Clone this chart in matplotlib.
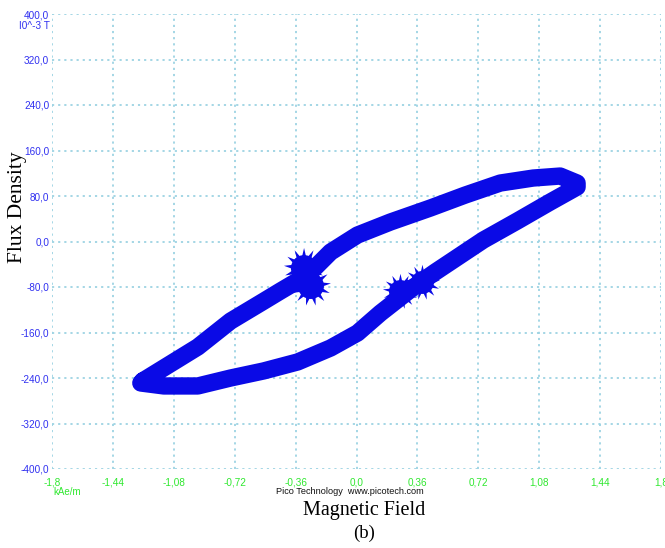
import matplotlib.pyplot as plt
from matplotlib.ticker import FixedLocator, FixedFormatter

# Hysteresis loop (H in kAe/m, B in 10^-3 T)
h_rising = [-1.263, -0.938, -0.744, -0.549, -0.449, -0.289, -0.153, 0.006,
            0.201, 0.437, 0.643, 0.850, 1.045, 1.204, 1.304]
b_rising = [-245.0, -185.5, -139.8, -105.0, -87.0, -58.9, -18.5, 11.4,
            34.3, 58.9, 81.7, 102.8, 111.6, 115.1, 102.8]
h_falling = [1.304, 1.145, 0.950, 0.750, 0.555, 0.466, 0.331, 0.142, 0.006,
             -0.153, -0.348, -0.549, -0.744, -0.938, -1.139, -1.275, -1.263]
b_falling = [95.8, 69.4, 36.0, 2.6, -36.0, -53.6, -81.7, -125.7, -160.9,
             -187.2, -211.8, -227.6, -240.0, -254.0, -254.0, -248.8, -245.0]

# noise bursts on each branch
burst_h = [-0.31, -0.27, 0.26, 0.39]
burst_b = [-47.0, -78.0, -88.0, -72.0]
burst_size = [850, 850, 650, 650]

x_ticks = [-1.8, -1.44, -1.08, -0.72, -0.36, 0.0, 0.36, 0.72, 1.08, 1.44, 1.8]
x_labels = ['-1,8', '-1,44', '-1,08', '-0,72', '-0,36', '0,0', '0,36',
            '0,72', '1,08', '1,44', '1,8']
y_ticks = [-400, -320, -240, -160, -80, 0, 80, 160, 240, 320, 400]
y_labels = ['-400,0', '-320,0', '-240,0', '-160,0', '-80,0', '0,0', '80,0',
            '160,0', '240,0', '320,0', '400,0']

blue = '#0a0ae6'
grid_col = '#9dd3e3'
tick_font = ['Liberation Sans Narrow', 'Liberation Sans', 'DejaVu Sans']
serif = ['Liberation Serif', 'DejaVu Serif']

fig = plt.figure(figsize=(6.65, 5.48), dpi=100)
ax = fig.add_axes([52 / 665, 1 - 469 / 548, 609 / 665, 455 / 548])

ax.plot(h_rising + h_falling, b_rising + b_falling, color=blue, lw=12.5,
        solid_joinstyle='round', solid_capstyle='round', zorder=3)
ax.scatter(burst_h, burst_b, s=burst_size, marker=(13, 1, 0), color=blue,
           linewidths=0, zorder=4)
ax.scatter(burst_h, burst_b, s=[s * 0.42 for s in burst_size], marker='o',
           color=blue, linewidths=0, zorder=4)

ax.set_xlim(-1.8, 1.8)
ax.set_ylim(-400, 400)
ax.xaxis.set_major_locator(FixedLocator(x_ticks))
ax.xaxis.set_major_formatter(FixedFormatter(x_labels))
ax.yaxis.set_major_locator(FixedLocator(y_ticks))
ax.yaxis.set_major_formatter(FixedFormatter(y_labels))
ax.tick_params(length=0, labelsize=7.2)
ax.tick_params(axis='x', labelcolor='#2fe82f', pad=6)
ax.tick_params(axis='y', labelcolor='#3030f0', pad=2)
for lab in ax.get_xticklabels() + ax.get_yticklabels():
    lab.set_family(tick_font)
for s in ax.spines.values():
    s.set_visible(False)
ax.grid(True, color=grid_col, linestyle=(0, (1.2, 2.2)), lw=1.3, zorder=0)

fig.text(50 / 665, 1 - 26 / 548, 'I0^-3 T', color='#3030f0', fontsize=7.2,
         family=tick_font, ha='right', va='center')
fig.text(53 / 665, 1 - 492 / 548, 'kAe/m', color='#2fe82f', fontsize=7,
         family=tick_font, ha='left', va='center')
fig.text(350 / 665, 1 - 492 / 548, 'Pico Technology  www.picotech.com',
         color='#111111', fontsize=6.6, family=tick_font, ha='center', va='center')

fig.text(18 / 665, 1 - 207 / 548, 'Flux Density', rotation=90, fontsize=15.5,
         family=serif, ha='center', va='center')
fig.text(364 / 665, 1 - 510 / 548, 'Magnetic Field', fontsize=14.5,
         family=serif, ha='center', va='center')
fig.text(364 / 665, 1 - 533 / 548, '(b)', fontsize=13.5,
         family=serif, ha='center', va='center')

fig.savefig('out.png', dpi=100)
